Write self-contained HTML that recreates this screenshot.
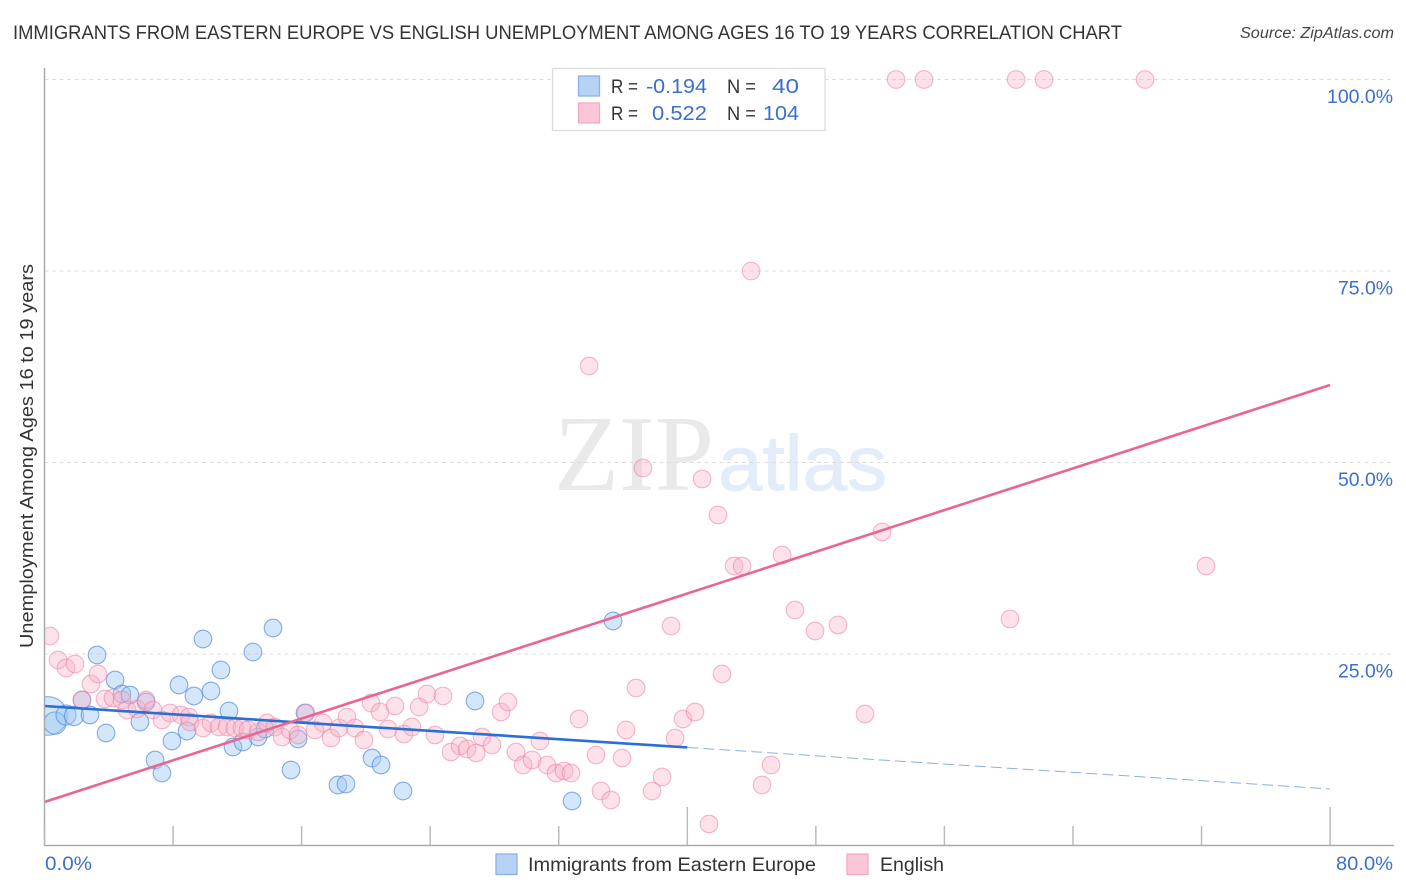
<!DOCTYPE html>
<html lang="en">
<head>
<meta charset="utf-8">
<title>Immigrants from Eastern Europe vs English Unemployment Correlation Chart</title>
<style>
html,body{margin:0;padding:0;background:#fff;width:1406px;height:892px;overflow:hidden}
svg{display:block;font-family:"Liberation Sans",sans-serif}
</style>
</head>
<body>
<svg id="chart" xmlns="http://www.w3.org/2000/svg" width="1406" height="892" viewBox="0 0 1406 892">
  <defs>
    <clipPath id="plot-clip"><rect x="45" y="60" width="1349" height="785"></rect></clipPath>
  </defs>
  <rect x="0" y="0" width="1406" height="892" fill="#fff"></rect>
  <text x="13" y="39" font-size="19" fill="#333" textLength="1109" lengthAdjust="spacingAndGlyphs">IMMIGRANTS FROM EASTERN EUROPE VS ENGLISH UNEMPLOYMENT AMONG AGES 16 TO 19 YEARS CORRELATION CHART</text>
  <text x="1394" y="38" font-size="15.5" font-style="italic" fill="#444" text-anchor="end" textLength="154" lengthAdjust="spacingAndGlyphs">Source: ZipAtlas.com</text>
  <g>
    <text x="554" y="490" font-family="'Liberation Serif',serif" font-size="108" fill="#e9e9e9" textLength="160" lengthAdjust="spacingAndGlyphs">ZIP</text>
    <text x="718" y="490" font-size="78" fill="#e3edf9" stroke="#e3edf9" stroke-width="1" textLength="169" lengthAdjust="spacingAndGlyphs">atlas</text>
  </g>
  <g id="grid"></g>
  <g id="points" clip-path="url(#plot-clip)"></g>
  <g id="trends"></g>
  <g id="axes"></g>
  <text transform="translate(33 456) rotate(-90)" font-size="18.5" fill="#333" text-anchor="middle" textLength="384" lengthAdjust="spacingAndGlyphs">Unemployment Among Ages 16 to 19 years</text>

  <g>
    <rect x="552.5" y="68.5" width="272.5" height="62" fill="#fff" fill-opacity="0.9" stroke="#ddd" stroke-width="1.3"></rect>
    <rect x="578.5" y="76" width="21" height="20" fill="#b6d2f6" stroke="#8ab2e6" stroke-width="1.3"></rect>
    <rect x="578.5" y="103" width="21" height="20" fill="#fac6d8" stroke="#f3a9c2" stroke-width="1.3"></rect>
    <text x="611" y="93" font-size="19.5" fill="#333" textLength="27" lengthAdjust="spacingAndGlyphs">R =</text>
    <text x="707" y="93" font-size="20.5" fill="#3b6fd0" text-anchor="end" textLength="61" lengthAdjust="spacingAndGlyphs">-0.194</text>
    <text x="727" y="93" font-size="19.5" fill="#333" textLength="29" lengthAdjust="spacingAndGlyphs">N =</text>
    <text x="799" y="93" font-size="20.5" fill="#3b6fd0" text-anchor="end" textLength="27" lengthAdjust="spacingAndGlyphs">40</text>
    <text x="611" y="120" font-size="19.5" fill="#333" textLength="27" lengthAdjust="spacingAndGlyphs">R =</text>
    <text x="707" y="120" font-size="20.5" fill="#3b6fd0" text-anchor="end" textLength="55" lengthAdjust="spacingAndGlyphs">0.522</text>
    <text x="727" y="120" font-size="19.5" fill="#333" textLength="29" lengthAdjust="spacingAndGlyphs">N =</text>
    <text x="799" y="120" font-size="20.5" fill="#3b6fd0" text-anchor="end" textLength="36" lengthAdjust="spacingAndGlyphs">104</text>
  </g>

  <g>
    <rect x="496" y="854" width="21" height="20.5" fill="#b6d2f6" stroke="#8ab2e6" stroke-width="1.3"></rect>
    <text x="528" y="871" font-size="19.5" fill="#333" textLength="288" lengthAdjust="spacingAndGlyphs">Immigrants from Eastern Europe</text>
    <rect x="847" y="854" width="21" height="20.5" fill="#fac6d8" stroke="#f3a9c2" stroke-width="1.3"></rect>
    <text x="880" y="871" font-size="19.5" fill="#333" textLength="64" lengthAdjust="spacingAndGlyphs">English</text>
  </g>
</svg>
<script>
// Series values: percent on each axis
var blueX = [0.22,0.65,1.34,1.84,2.83,2.33,3.83,3.27,4.39,4.82,5.32,6.32,5.94,6.88,7.31,7.93,8.87,8.37,9.30,10.36,10.98,9.86,12.97,14.22,11.48,11.73,12.35,13.29,13.72,15.34,15.78,16.21,18.26,18.76,20.38,20.94,22.31,26.79,32.83,35.38];
var blueY = [16.91,15.99,17.04,16.91,17.04,19.00,14.69,24.87,21.61,19.78,19.65,18.73,16.12,11.16,9.46,13.64,14.95,20.95,19.52,20.17,22.91,26.96,25.26,28.39,17.56,12.86,13.51,14.16,15.21,9.86,13.90,17.30,7.90,8.03,11.42,10.51,7.11,18.86,5.81,29.31];
var blueWeight = [4.8,1.6,1.3,1.2,1,1,1,1,1,1,1,1,1,1,1,1,1,1,1,1,1,1,1,1,1,1,1,1,1,1,1,1,1,1,1,1,1,1,1,1];
var pinkX = [0.34,0.84,1.34,1.90,2.89,3.33,2.33,3.76,4.26,4.82,5.13,5.76,6.32,6.75,7.31,7.81,8.49,8.99,9.05,9.86,10.36,10.86,11.36,11.85,12.29,12.66,13.29,13.85,14.34,14.78,15.28,15.78,16.27,16.83,17.33,17.83,18.33,18.82,19.32,20.32,20.88,21.81,19.88,21.38,22.37,22.87,23.31,23.80,24.80,24.30,25.30,25.86,26.30,26.86,27.23,27.85,28.41,28.84,29.34,29.78,30.34,30.83,31.27,31.83,32.33,32.76,33.26,34.32,34.63,35.25,35.94,36.19,36.81,37.81,38.43,39.24,39.73,40.48,38.99,41.35,42.16,45.21,44.65,43.97,33.89,37.24,40.92,41.91,42.91,43.41,45.90,52.12,46.70,47.95,49.38,51.06,60.08,72.28,52.99,54.73,60.46,62.20,68.48,46.08];
var pinkY = [27.35,24.22,23.17,23.69,21.08,22.39,19.00,19.13,19.26,19.00,17.69,17.82,19.00,17.69,16.38,17.30,17.04,16.78,16.12,15.34,15.99,15.47,15.47,15.34,15.34,15.08,14.82,15.99,15.47,14.16,15.08,14.43,17.30,15.08,15.99,14.03,15.34,16.78,15.34,18.60,17.43,18.21,13.77,15.21,14.56,15.47,18.08,19.78,19.52,14.43,12.21,12.99,12.60,12.08,14.16,13.12,17.43,18.73,12.21,10.51,11.16,13.64,10.51,9.46,9.73,9.46,16.51,11.81,7.11,5.94,11.42,15.08,20.56,7.11,8.94,14.03,16.51,17.43,28.66,2.81,22.39,10.51,7.90,75.00,62.60,49.28,47.85,43.15,36.49,36.49,37.92,40.93,30.74,28.00,28.79,17.17,29.57,36.49,100,100,100,100,100,100];

// Trend endpoints: value at x = 0, 40 and 80 percent
var blueTrend = [18.21,12.80,7.38];
var pinkTrend = [5.68,32.90,60.12];

// Axis ticks
var xTicks = [0,8,16,24,32,40,48,56,64,72,80];
var xMajorTicks = [40,80];
var xTickLabels = ['0.0%','80.0%'];
var yTicks = [25,50,75,100];
var yTickLabels = ['25.0%','50.0%','75.0%','100.0%'];

var NS = 'http://www.w3.org/2000/svg';
function xScale(v){ return 44.5 + v * 16.07; }
function yScale(v){ return 845.5 - v * 7.66; }
function make(tag, parent, attrs){
  var el = document.createElementNS(NS, tag);
  for (var k in attrs) el.setAttribute(k, attrs[k]);
  parent.appendChild(el);
  return el;
}

var grid = document.getElementById('grid');
var axes = document.getElementById('axes');
var points = document.getElementById('points');
var trends = document.getElementById('trends');

yTicks.forEach(function(t, i){
  var y = yScale(t);
  var line = make('line', grid, {x1:44.5, x2:1394, y1:y, y2:y, stroke:'#dcdcdc', 'stroke-width':1.1, 'stroke-dasharray':'4 3.5'});
  
  
  var label = make('text', axes, {x:1393, y:y + 23.5, 'font-size':19, fill:'#3b6fd0', 'text-anchor':'end', textLength:t === 100 ? 66 : 55, lengthAdjust:'spacingAndGlyphs'});
  label.textContent = yTickLabels[i];
  
  
});

function drawSeries(xs, ys, weights, fill, stroke, name){
  xs.forEach(function(v, i){
    var w = weights ? weights[i] : 1;
    var c = make('circle', points, {cx:xScale(v), cy:yScale(ys[i]), r:8.8 * Math.sqrt(w), fill:fill, stroke:stroke, 'stroke-width':1.1});
    
    
  });
}
drawSeries(blueX, blueY, blueWeight, 'rgba(160,200,245,0.45)', 'rgba(85,140,220,0.7)', 'immigrants-point');
drawSeries(pinkX, pinkY, null, 'rgba(250,175,198,0.36)', 'rgba(235,125,160,0.55)', 'english-point');

var blueSolid = make('line', trends, {x1:xScale(0), y1:yScale(blueTrend[0]), x2:xScale(40), y2:yScale(blueTrend[1]), stroke:'#2a6fd6', 'stroke-width':2.6});


var blueDash = make('line', trends, {x1:xScale(40), y1:yScale(blueTrend[1]), x2:xScale(80), y2:yScale(blueTrend[2]), stroke:'#8ab0e4', 'stroke-width':1, 'stroke-dasharray':'11 5'});


var pinkLine = make('line', trends, {x1:xScale(0), y1:yScale(pinkTrend[0]), x2:xScale(80), y2:yScale(pinkTrend[2]), stroke:'#e8668f', 'stroke-width':2.6});



var yAxis = make('line', axes, {x1:44.5, x2:44.5, y1:68, y2:846, stroke:'#aaa', 'stroke-width':1.5});


var xAxis = make('line', axes, {x1:44, x2:1394, y1:845.5, y2:845.5, stroke:'#aaa', 'stroke-width':1.5});



xTicks.forEach(function(t){
  var x = xScale(t);
  var top = xMajorTicks.indexOf(t) >= 0 ? 807 : 826;
  var tick = make('line', axes, {x1:x, x2:x, y1:top, y2:845, stroke:'#bbb', 'stroke-width':1.5});
  
  
});

var xLabelLeft = make('text', axes, {x:45, y:870, 'font-size':19, fill:'#3b6fd0', textLength:47, lengthAdjust:'spacingAndGlyphs'});
xLabelLeft.textContent = xTickLabels[0];


var xLabelRight = make('text', axes, {x:1393, y:870, 'font-size':19, fill:'#3b6fd0', 'text-anchor':'end', textLength:57, lengthAdjust:'spacingAndGlyphs'});
xLabelRight.textContent = xTickLabels[1];


</script>
</body>
</html>
